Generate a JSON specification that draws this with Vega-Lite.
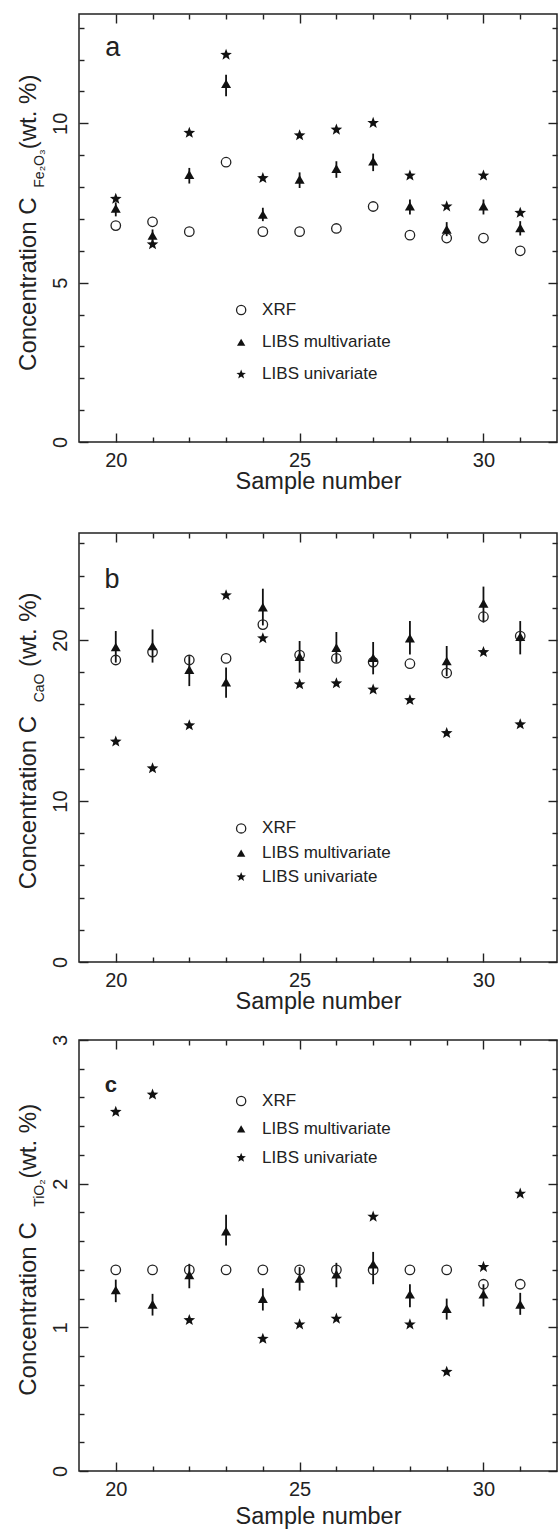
{
  "$schema": "https://vega.github.io/schema/vega-lite/v6.json",
  "autosize": {"type": "pad"},
  "padding": {"left": 16, "top": 12, "right": 1, "bottom": 0},
  "spacing": 37,
  "config": {
    "font": "Liberation Sans",
    "view": {"stroke": "#222", "strokeWidth": 1.5},
    "axis": {"domain": false, "grid": false, "tickColor": "#222", "tickWidth": 1.4, "labelFont": "Liberation Sans", "labelFontSize": 20, "labelColor": "#222", "titleFont": "Liberation Sans", "titleFontSize": 23.5, "titleFontWeight": "normal", "titleColor": "#222", "labelFlush": false, "labelOverlap": false},
    "text": {"font": "Liberation Sans", "color": "#222"}
  },
  "datasets": {
    "pa": [
      {"sample":20,"method":"XRF","value":6.79},{"sample":21,"method":"XRF","value":6.91},{"sample":22,"method":"XRF","value":6.6},{"sample":23,"method":"XRF","value":8.78},{"sample":24,"method":"XRF","value":6.6},{"sample":25,"method":"XRF","value":6.6},{"sample":26,"method":"XRF","value":6.7},{"sample":27,"method":"XRF","value":7.39},{"sample":28,"method":"XRF","value":6.49},{"sample":29,"method":"XRF","value":6.4},{"sample":30,"method":"XRF","value":6.4},{"sample":31,"method":"XRF","value":6.0},
      {"sample":20,"method":"LIBS multivariate","value":7.33,"lo":7.08,"hi":7.52},{"sample":21,"method":"LIBS multivariate","value":6.48,"lo":6.25,"hi":6.67},{"sample":22,"method":"LIBS multivariate","value":8.39,"lo":8.11,"hi":8.6},{"sample":23,"method":"LIBS multivariate","value":11.24,"lo":10.85,"hi":11.52},{"sample":24,"method":"LIBS multivariate","value":7.14,"lo":6.93,"hi":7.35},{"sample":25,"method":"LIBS multivariate","value":8.24,"lo":7.97,"hi":8.46},{"sample":26,"method":"LIBS multivariate","value":8.58,"lo":8.29,"hi":8.81},{"sample":27,"method":"LIBS multivariate","value":8.81,"lo":8.5,"hi":9.05},{"sample":28,"method":"LIBS multivariate","value":7.4,"lo":7.14,"hi":7.61},{"sample":29,"method":"LIBS multivariate","value":6.67,"lo":6.46,"hi":6.9},{"sample":30,"method":"LIBS multivariate","value":7.4,"lo":7.14,"hi":7.61},{"sample":31,"method":"LIBS multivariate","value":6.72,"lo":6.48,"hi":6.93},
      {"sample":20,"method":"LIBS univariate","value":7.63},{"sample":21,"method":"LIBS univariate","value":6.2},{"sample":22,"method":"LIBS univariate","value":9.7},{"sample":23,"method":"LIBS univariate","value":12.15},{"sample":24,"method":"LIBS univariate","value":8.28},{"sample":25,"method":"LIBS univariate","value":9.62},{"sample":26,"method":"LIBS univariate","value":9.8},{"sample":27,"method":"LIBS univariate","value":10.01},{"sample":28,"method":"LIBS univariate","value":8.36},{"sample":29,"method":"LIBS univariate","value":7.39},{"sample":30,"method":"LIBS univariate","value":8.36},{"sample":31,"method":"LIBS univariate","value":7.19}
    ],
    "pb": [
      {"sample":20,"method":"XRF","value":18.76},{"sample":21,"method":"XRF","value":19.25},{"sample":22,"method":"XRF","value":18.76},{"sample":23,"method":"XRF","value":18.86},{"sample":24,"method":"XRF","value":20.96},{"sample":25,"method":"XRF","value":19.07},{"sample":26,"method":"XRF","value":18.86},{"sample":27,"method":"XRF","value":18.63},{"sample":28,"method":"XRF","value":18.53},{"sample":29,"method":"XRF","value":17.95},{"sample":30,"method":"XRF","value":21.45},{"sample":31,"method":"XRF","value":20.25},
      {"sample":20,"method":"LIBS multivariate","value":19.57,"lo":18.6,"hi":20.56},{"sample":21,"method":"LIBS multivariate","value":19.63,"lo":18.6,"hi":20.66},{"sample":22,"method":"LIBS multivariate","value":18.16,"lo":17.14,"hi":19.0},{"sample":23,"method":"LIBS multivariate","value":17.39,"lo":16.42,"hi":18.29},{"sample":24,"method":"LIBS multivariate","value":22.05,"lo":20.91,"hi":23.19},{"sample":25,"method":"LIBS multivariate","value":18.97,"lo":17.98,"hi":19.94},{"sample":26,"method":"LIBS multivariate","value":19.53,"lo":18.6,"hi":20.5},{"sample":27,"method":"LIBS multivariate","value":18.9,"lo":17.87,"hi":19.88},{"sample":28,"method":"LIBS multivariate","value":20.12,"lo":19.11,"hi":21.18},{"sample":29,"method":"LIBS multivariate","value":18.7,"lo":17.76,"hi":19.63},{"sample":30,"method":"LIBS multivariate","value":22.28,"lo":21.08,"hi":23.32},{"sample":31,"method":"LIBS multivariate","value":20.21,"lo":19.11,"hi":21.18},
      {"sample":20,"method":"LIBS univariate","value":13.69},{"sample":21,"method":"LIBS univariate","value":12.03},{"sample":22,"method":"LIBS univariate","value":14.7},{"sample":23,"method":"LIBS univariate","value":22.78},{"sample":24,"method":"LIBS univariate","value":20.11},{"sample":25,"method":"LIBS univariate","value":17.25},{"sample":26,"method":"LIBS univariate","value":17.31},{"sample":27,"method":"LIBS univariate","value":16.92},{"sample":28,"method":"LIBS univariate","value":16.27},{"sample":29,"method":"LIBS univariate","value":14.22},{"sample":30,"method":"LIBS univariate","value":19.25},{"sample":31,"method":"LIBS univariate","value":14.76}
    ],
    "pc": [
      {"sample":20,"method":"XRF","value":1.4},{"sample":21,"method":"XRF","value":1.4},{"sample":22,"method":"XRF","value":1.4},{"sample":23,"method":"XRF","value":1.4},{"sample":24,"method":"XRF","value":1.4},{"sample":25,"method":"XRF","value":1.4},{"sample":26,"method":"XRF","value":1.4},{"sample":27,"method":"XRF","value":1.4},{"sample":28,"method":"XRF","value":1.4},{"sample":29,"method":"XRF","value":1.4},{"sample":30,"method":"XRF","value":1.3},{"sample":31,"method":"XRF","value":1.3},
      {"sample":20,"method":"LIBS multivariate","value":1.26,"lo":1.175,"hi":1.332},{"sample":21,"method":"LIBS multivariate","value":1.16,"lo":1.082,"hi":1.233},{"sample":22,"method":"LIBS multivariate","value":1.365,"lo":1.272,"hi":1.442},{"sample":23,"method":"LIBS multivariate","value":1.67,"lo":1.569,"hi":1.783},{"sample":24,"method":"LIBS multivariate","value":1.2,"lo":1.117,"hi":1.272},{"sample":25,"method":"LIBS multivariate","value":1.34,"lo":1.256,"hi":1.419},{"sample":26,"method":"LIBS multivariate","value":1.37,"lo":1.279,"hi":1.449},{"sample":27,"method":"LIBS multivariate","value":1.44,"lo":1.3,"hi":1.525},{"sample":28,"method":"LIBS multivariate","value":1.23,"lo":1.14,"hi":1.3},{"sample":29,"method":"LIBS multivariate","value":1.13,"lo":1.054,"hi":1.2},{"sample":30,"method":"LIBS multivariate","value":1.23,"lo":1.145,"hi":1.3},{"sample":31,"method":"LIBS multivariate","value":1.16,"lo":1.087,"hi":1.24},
      {"sample":20,"method":"LIBS univariate","value":2.5},{"sample":21,"method":"LIBS univariate","value":2.62},{"sample":22,"method":"LIBS univariate","value":1.05},{"sample":24,"method":"LIBS univariate","value":0.92},{"sample":25,"method":"LIBS univariate","value":1.02},{"sample":26,"method":"LIBS univariate","value":1.06},{"sample":27,"method":"LIBS univariate","value":1.77},{"sample":28,"method":"LIBS univariate","value":1.02},{"sample":29,"method":"LIBS univariate","value":0.69},{"sample":30,"method":"LIBS univariate","value":1.42},{"sample":31,"method":"LIBS univariate","value":1.93}
    ]
  },
  "vconcat": [
    {
      "width": 478, "height": 428,
      "data": {"name": "pa"},
      "resolve": {"scale": {"x": "shared", "y": "shared"}, "axis": {"x": "independent", "y": "independent"}},
      "layer": [
        {"transform": [{"filter": "datum.method === 'LIBS multivariate'"}],
         "mark": {"type": "rule", "color": "#111", "strokeWidth": 1.8},
         "encoding": {
           "x": {"field": "sample", "type": "quantitative", "scale": {"domain": [19, 32], "nice": false, "zero": false}, "axis": {"orient": "bottom", "values": [20, 25, 30], "tickSize": -9, "labelPadding": 17, "title": "Sample number", "titlePadding": -1}},
           "y": {"field": "lo", "type": "quantitative", "scale": {"domain": [0, 13.43], "nice": false, "zero": false}, "axis": {"orient": "left", "values": [0, 5, 10], "tickSize": -9, "labelAngle": 270, "labelAlign": "center", "labelBaseline": "alphabetic", "labelPadding": 21.5, "title": null}},
           "y2": {"field": "hi"}}},
        {"transform": [{"filter": "datum.method === 'XRF'"}],
         "mark": {"type": "point", "shape": "circle", "filled": false, "stroke": "#222", "strokeWidth": 1.3, "size": 90, "opacity": 1},
         "encoding": {
           "x": {"field": "sample", "type": "quantitative", "axis": {"orient": "bottom", "values": [21, 22, 23, 24, 26, 27, 28, 29, 31], "tickSize": -5, "labels": false, "title": null}},
           "y": {"field": "value", "type": "quantitative", "axis": {"orient": "left", "values": [1, 2, 3, 4, 6, 7, 8, 9, 11, 12, 13], "tickSize": -5, "labels": false, "title": null}}}},
        {"transform": [{"filter": "datum.method === 'LIBS multivariate'"}],
         "mark": {"type": "point", "shape": "triangle-up", "filled": true, "fill": "#111", "strokeWidth": 0, "size": 100, "opacity": 1},
         "encoding": {
           "x": {"field": "sample", "type": "quantitative", "axis": {"orient": "top", "values": [20, 25, 30], "tickSize": -9, "labels": false, "title": null}},
           "y": {"field": "value", "type": "quantitative", "axis": {"orient": "right", "values": [0, 5, 10], "tickSize": -9, "labels": false, "title": null}}}},
        {"transform": [{"filter": "datum.method === 'LIBS univariate'"}],
         "mark": {"type": "point", "shape": "M0,-1L0.2469,-0.3398L0.951,-0.309L0.3994,0.1298L0.588,0.809L0,0.42L-0.588,0.809L-0.3994,0.1298L-0.951,-0.309L-0.2469,-0.3398Z", "filled": true, "fill": "#111", "strokeWidth": 0, "size": 150, "opacity": 1},
         "encoding": {
           "x": {"field": "sample", "type": "quantitative", "axis": {"orient": "top", "values": [21, 22, 23, 24, 26, 27, 28, 29, 31], "tickSize": -5, "labels": false, "title": null}},
           "y": {"field": "value", "type": "quantitative", "axis": {"orient": "right", "values": [1, 2, 3, 4, 6, 7, 8, 9, 11, 12, 13], "tickSize": -5, "labels": false, "title": null}}}},
        {"data": {"values": [{}]}, "mark": {"type": "text", "angle": 270, "align": "left", "baseline": "alphabetic", "fontSize": 24},
         "encoding": {"x": {"datum": 17.83, "type": "quantitative", "axis": null}, "y": {"datum": 2.23, "type": "quantitative", "axis": null}, "text": {"value": "Concentration C"}}},
        {"data": {"values": [{}]}, "mark": {"type": "text", "angle": 270, "align": "left", "baseline": "alphabetic", "fontSize": 14},
         "encoding": {"x": {"datum": 18.05, "type": "quantitative", "axis": null}, "y": {"datum": 7.98, "type": "quantitative", "axis": null}, "text": {"value": "Fe₂O₃"}}},
        {"data": {"values": [{}]}, "mark": {"type": "text", "angle": 270, "align": "right", "baseline": "alphabetic", "fontSize": 24},
         "encoding": {"x": {"datum": 17.83, "type": "quantitative", "axis": null}, "y": {"datum": 11.53, "type": "quantitative", "axis": null}, "text": {"value": "(wt. %)"}}},
        {"data": {"values": [{}]}, "mark": {"type": "text", "align": "center", "baseline": "alphabetic", "fontSize": 27},
         "encoding": {"x": {"datum": 19.92, "type": "quantitative", "axis": null}, "y": {"datum": 12.1, "type": "quantitative", "axis": null}, "text": {"value": "a"}}},
        {"data": {"values": [{}]}, "mark": {"type": "point", "shape": "circle", "filled": false, "stroke": "#222", "strokeWidth": 1.3, "size": 85, "opacity": 1},
         "encoding": {"x": {"datum": 23.41, "type": "quantitative", "axis": null}, "y": {"datum": 4.14, "type": "quantitative", "axis": null}}},
        {"data": {"values": [{}]}, "mark": {"type": "point", "shape": "triangle-up", "filled": true, "fill": "#111", "strokeWidth": 0, "size": 70, "opacity": 1},
         "encoding": {"x": {"datum": 23.41, "type": "quantitative", "axis": null}, "y": {"datum": 3.13, "type": "quantitative", "axis": null}}},
        {"data": {"values": [{}]}, "mark": {"type": "point", "shape": "M0,-1L0.2469,-0.3398L0.951,-0.309L0.3994,0.1298L0.588,0.809L0,0.42L-0.588,0.809L-0.3994,0.1298L-0.951,-0.309L-0.2469,-0.3398Z", "filled": true, "fill": "#111", "strokeWidth": 0, "size": 100, "opacity": 1},
         "encoding": {"x": {"datum": 23.41, "type": "quantitative", "axis": null}, "y": {"datum": 2.12, "type": "quantitative", "axis": null}}},
        {"data": {"values": [{}]}, "mark": {"type": "text", "align": "left", "baseline": "middle", "fontSize": 17},
         "encoding": {"x": {"datum": 23.98, "type": "quantitative", "axis": null}, "y": {"datum": 4.14, "type": "quantitative", "axis": null}, "text": {"value": "XRF"}}},
        {"data": {"values": [{}]}, "mark": {"type": "text", "align": "left", "baseline": "middle", "fontSize": 17},
         "encoding": {"x": {"datum": 23.98, "type": "quantitative", "axis": null}, "y": {"datum": 3.13, "type": "quantitative", "axis": null}, "text": {"value": "LIBS multivariate"}}},
        {"data": {"values": [{}]}, "mark": {"type": "text", "align": "left", "baseline": "middle", "fontSize": 17},
         "encoding": {"x": {"datum": 23.98, "type": "quantitative", "axis": null}, "y": {"datum": 2.12, "type": "quantitative", "axis": null}, "text": {"value": "LIBS univariate"}}}
      ]
    },
    {
      "spacing": 19,
      "vconcat": [
        {
          "width": 478, "height": 429,
          "data": {"name": "pb"},
          "resolve": {"scale": {"x": "shared", "y": "shared"}, "axis": {"x": "independent", "y": "independent"}},
          "layer": [
            {"transform": [{"filter": "datum.method === 'LIBS multivariate'"}],
             "mark": {"type": "rule", "color": "#111", "strokeWidth": 1.8},
             "encoding": {
               "x": {"field": "sample", "type": "quantitative", "scale": {"domain": [19, 32], "nice": false, "zero": false}, "axis": {"orient": "bottom", "values": [20, 25, 30], "tickSize": -9, "labelPadding": 17, "title": "Sample number", "titlePadding": -1}},
               "y": {"field": "lo", "type": "quantitative", "scale": {"domain": [0, 26.65], "nice": false, "zero": false}, "axis": {"orient": "left", "values": [0, 10, 20], "tickSize": -9, "labelAngle": 270, "labelAlign": "center", "labelBaseline": "alphabetic", "labelPadding": 21.5, "title": null}},
               "y2": {"field": "hi"}}},
            {"transform": [{"filter": "datum.method === 'XRF'"}],
             "mark": {"type": "point", "shape": "circle", "filled": false, "stroke": "#222", "strokeWidth": 1.3, "size": 90, "opacity": 1},
             "encoding": {
               "x": {"field": "sample", "type": "quantitative", "axis": {"orient": "bottom", "values": [21, 22, 23, 24, 26, 27, 28, 29, 31], "tickSize": -5, "labels": false, "title": null}},
               "y": {"field": "value", "type": "quantitative", "axis": {"orient": "left", "values": [2, 4, 6, 8, 12, 14, 16, 18, 22, 24, 26], "tickSize": -5, "labels": false, "title": null}}}},
            {"transform": [{"filter": "datum.method === 'LIBS multivariate'"}],
             "mark": {"type": "point", "shape": "triangle-up", "filled": true, "fill": "#111", "strokeWidth": 0, "size": 100, "opacity": 1},
             "encoding": {
               "x": {"field": "sample", "type": "quantitative", "axis": {"orient": "top", "values": [20, 25, 30], "tickSize": -9, "labels": false, "title": null}},
               "y": {"field": "value", "type": "quantitative", "axis": {"orient": "right", "values": [0, 10, 20], "tickSize": -9, "labels": false, "title": null}}}},
            {"transform": [{"filter": "datum.method === 'LIBS univariate'"}],
             "mark": {"type": "point", "shape": "M0,-1L0.2469,-0.3398L0.951,-0.309L0.3994,0.1298L0.588,0.809L0,0.42L-0.588,0.809L-0.3994,0.1298L-0.951,-0.309L-0.2469,-0.3398Z", "filled": true, "fill": "#111", "strokeWidth": 0, "size": 150, "opacity": 1},
             "encoding": {
               "x": {"field": "sample", "type": "quantitative", "axis": {"orient": "top", "values": [21, 22, 23, 24, 26, 27, 28, 29, 31], "tickSize": -5, "labels": false, "title": null}},
               "y": {"field": "value", "type": "quantitative", "axis": {"orient": "right", "values": [2, 4, 6, 8, 12, 14, 16, 18, 22, 24, 26], "tickSize": -5, "labels": false, "title": null}}}},
            {"data": {"values": [{}]}, "mark": {"type": "text", "angle": 270, "align": "left", "baseline": "alphabetic", "fontSize": 24},
             "encoding": {"x": {"datum": 17.83, "type": "quantitative", "axis": null}, "y": {"datum": 4.52, "type": "quantitative", "axis": null}, "text": {"value": "Concentration C"}}},
            {"data": {"values": [{}]}, "mark": {"type": "text", "angle": 270, "align": "left", "baseline": "alphabetic", "fontSize": 14},
             "encoding": {"x": {"datum": 18.05, "type": "quantitative", "axis": null}, "y": {"datum": 16.13, "type": "quantitative", "axis": null}, "text": {"value": "CaO"}}},
            {"data": {"values": [{}]}, "mark": {"type": "text", "angle": 270, "align": "right", "baseline": "alphabetic", "fontSize": 24},
             "encoding": {"x": {"datum": 17.83, "type": "quantitative", "axis": null}, "y": {"datum": 22.96, "type": "quantitative", "axis": null}, "text": {"value": "(wt. %)"}}},
            {"data": {"values": [{}]}, "mark": {"type": "text", "align": "center", "baseline": "alphabetic", "fontSize": 27},
             "encoding": {"x": {"datum": 19.9, "type": "quantitative", "axis": null}, "y": {"datum": 23.26, "type": "quantitative", "axis": null}, "text": {"value": "b"}}},
            {"data": {"values": [{}]}, "mark": {"type": "point", "shape": "circle", "filled": false, "stroke": "#222", "strokeWidth": 1.3, "size": 85, "opacity": 1},
             "encoding": {"x": {"datum": 23.41, "type": "quantitative", "axis": null}, "y": {"datum": 8.3, "type": "quantitative", "axis": null}}},
            {"data": {"values": [{}]}, "mark": {"type": "point", "shape": "triangle-up", "filled": true, "fill": "#111", "strokeWidth": 0, "size": 70, "opacity": 1},
             "encoding": {"x": {"datum": 23.41, "type": "quantitative", "axis": null}, "y": {"datum": 6.77, "type": "quantitative", "axis": null}}},
            {"data": {"values": [{}]}, "mark": {"type": "point", "shape": "M0,-1L0.2469,-0.3398L0.951,-0.309L0.3994,0.1298L0.588,0.809L0,0.42L-0.588,0.809L-0.3994,0.1298L-0.951,-0.309L-0.2469,-0.3398Z", "filled": true, "fill": "#111", "strokeWidth": 0, "size": 100, "opacity": 1},
             "encoding": {"x": {"datum": 23.41, "type": "quantitative", "axis": null}, "y": {"datum": 5.28, "type": "quantitative", "axis": null}}},
            {"data": {"values": [{}]}, "mark": {"type": "text", "align": "left", "baseline": "middle", "fontSize": 17},
             "encoding": {"x": {"datum": 23.98, "type": "quantitative", "axis": null}, "y": {"datum": 8.3, "type": "quantitative", "axis": null}, "text": {"value": "XRF"}}},
            {"data": {"values": [{}]}, "mark": {"type": "text", "align": "left", "baseline": "middle", "fontSize": 17},
             "encoding": {"x": {"datum": 23.98, "type": "quantitative", "axis": null}, "y": {"datum": 6.77, "type": "quantitative", "axis": null}, "text": {"value": "LIBS multivariate"}}},
            {"data": {"values": [{}]}, "mark": {"type": "text", "align": "left", "baseline": "middle", "fontSize": 17},
             "encoding": {"x": {"datum": 23.98, "type": "quantitative", "axis": null}, "y": {"datum": 5.28, "type": "quantitative", "axis": null}, "text": {"value": "LIBS univariate"}}}
          ]
        },
        {
          "width": 478, "height": 431,
          "data": {"name": "pc"},
          "resolve": {"scale": {"x": "shared", "y": "shared"}, "axis": {"x": "independent", "y": "independent"}},
          "layer": [
            {"transform": [{"filter": "datum.method === 'LIBS multivariate'"}],
             "mark": {"type": "rule", "color": "#111", "strokeWidth": 1.8},
             "encoding": {
               "x": {"field": "sample", "type": "quantitative", "scale": {"domain": [19, 32], "nice": false, "zero": false}, "axis": {"orient": "bottom", "values": [20, 25, 30], "tickSize": -9, "labelPadding": 17, "title": "Sample number", "titlePadding": 5}},
               "y": {"field": "lo", "type": "quantitative", "scale": {"domain": [0, 3], "nice": false, "zero": false}, "axis": {"orient": "left", "values": [0, 1, 2, 3], "tickSize": -9, "labelAngle": 270, "labelAlign": "center", "labelBaseline": "alphabetic", "labelPadding": 21.5, "title": null}},
               "y2": {"field": "hi"}}},
            {"transform": [{"filter": "datum.method === 'XRF'"}],
             "mark": {"type": "point", "shape": "circle", "filled": false, "stroke": "#222", "strokeWidth": 1.3, "size": 90, "opacity": 1},
             "encoding": {
               "x": {"field": "sample", "type": "quantitative", "axis": {"orient": "bottom", "values": [21, 22, 23, 24, 26, 27, 28, 29, 31], "tickSize": -5, "labels": false, "title": null}},
               "y": {"field": "value", "type": "quantitative", "axis": {"orient": "left", "values": [0.2, 0.4, 0.6, 0.8, 1.2, 1.4, 1.6, 1.8, 2.2, 2.4, 2.6, 2.8], "tickSize": -5, "labels": false, "title": null}}}},
            {"transform": [{"filter": "datum.method === 'LIBS multivariate'"}],
             "mark": {"type": "point", "shape": "triangle-up", "filled": true, "fill": "#111", "strokeWidth": 0, "size": 100, "opacity": 1},
             "encoding": {
               "x": {"field": "sample", "type": "quantitative", "axis": {"orient": "top", "values": [20, 25, 30], "tickSize": -9, "labels": false, "title": null}},
               "y": {"field": "value", "type": "quantitative", "axis": {"orient": "right", "values": [0, 1, 2, 3], "tickSize": -9, "labels": false, "title": null}}}},
            {"transform": [{"filter": "datum.method === 'LIBS univariate'"}],
             "mark": {"type": "point", "shape": "M0,-1L0.2469,-0.3398L0.951,-0.309L0.3994,0.1298L0.588,0.809L0,0.42L-0.588,0.809L-0.3994,0.1298L-0.951,-0.309L-0.2469,-0.3398Z", "filled": true, "fill": "#111", "strokeWidth": 0, "size": 150, "opacity": 1},
             "encoding": {
               "x": {"field": "sample", "type": "quantitative", "axis": {"orient": "top", "values": [21, 22, 23, 24, 26, 27, 28, 29, 31], "tickSize": -5, "labels": false, "title": null}},
               "y": {"field": "value", "type": "quantitative", "axis": {"orient": "right", "values": [0.2, 0.4, 0.6, 0.8, 1.2, 1.4, 1.6, 1.8, 2.2, 2.4, 2.6, 2.8], "tickSize": -5, "labels": false, "title": null}}}},
            {"data": {"values": [{}]}, "mark": {"type": "text", "angle": 270, "align": "left", "baseline": "alphabetic", "fontSize": 24},
             "encoding": {"x": {"datum": 17.83, "type": "quantitative", "axis": null}, "y": {"datum": 0.524, "type": "quantitative", "axis": null}, "text": {"value": "Concentration C"}}},
            {"data": {"values": [{}]}, "mark": {"type": "text", "angle": 270, "align": "left", "baseline": "alphabetic", "fontSize": 14},
             "encoding": {"x": {"datum": 18.05, "type": "quantitative", "axis": null}, "y": {"datum": 1.839, "type": "quantitative", "axis": null}, "text": {"value": "TiO₂"}}},
            {"data": {"values": [{}]}, "mark": {"type": "text", "angle": 270, "align": "right", "baseline": "alphabetic", "fontSize": 24},
             "encoding": {"x": {"datum": 17.83, "type": "quantitative", "axis": null}, "y": {"datum": 2.556, "type": "quantitative", "axis": null}, "text": {"value": "(wt. %)"}}},
            {"data": {"values": [{}]}, "mark": {"type": "text", "align": "center", "baseline": "alphabetic", "fontSize": 22, "fontWeight": "bold"},
             "encoding": {"x": {"datum": 19.87, "type": "quantitative", "axis": null}, "y": {"datum": 2.638, "type": "quantitative", "axis": null}, "text": {"value": "c"}}},
            {"data": {"values": [{}]}, "mark": {"type": "point", "shape": "circle", "filled": false, "stroke": "#222", "strokeWidth": 1.3, "size": 85, "opacity": 1},
             "encoding": {"x": {"datum": 23.41, "type": "quantitative", "axis": null}, "y": {"datum": 2.575, "type": "quantitative", "axis": null}}},
            {"data": {"values": [{}]}, "mark": {"type": "point", "shape": "triangle-up", "filled": true, "fill": "#111", "strokeWidth": 0, "size": 70, "opacity": 1},
             "encoding": {"x": {"datum": 23.41, "type": "quantitative", "axis": null}, "y": {"datum": 2.382, "type": "quantitative", "axis": null}}},
            {"data": {"values": [{}]}, "mark": {"type": "point", "shape": "M0,-1L0.2469,-0.3398L0.951,-0.309L0.3994,0.1298L0.588,0.809L0,0.42L-0.588,0.809L-0.3994,0.1298L-0.951,-0.309L-0.2469,-0.3398Z", "filled": true, "fill": "#111", "strokeWidth": 0, "size": 100, "opacity": 1},
             "encoding": {"x": {"datum": 23.41, "type": "quantitative", "axis": null}, "y": {"datum": 2.18, "type": "quantitative", "axis": null}}},
            {"data": {"values": [{}]}, "mark": {"type": "text", "align": "left", "baseline": "middle", "fontSize": 17},
             "encoding": {"x": {"datum": 23.98, "type": "quantitative", "axis": null}, "y": {"datum": 2.575, "type": "quantitative", "axis": null}, "text": {"value": "XRF"}}},
            {"data": {"values": [{}]}, "mark": {"type": "text", "align": "left", "baseline": "middle", "fontSize": 17},
             "encoding": {"x": {"datum": 23.98, "type": "quantitative", "axis": null}, "y": {"datum": 2.382, "type": "quantitative", "axis": null}, "text": {"value": "LIBS multivariate"}}},
            {"data": {"values": [{}]}, "mark": {"type": "text", "align": "left", "baseline": "middle", "fontSize": 17},
             "encoding": {"x": {"datum": 23.98, "type": "quantitative", "axis": null}, "y": {"datum": 2.18, "type": "quantitative", "axis": null}, "text": {"value": "LIBS univariate"}}}
          ]
        }
      ]
    }
  ]
}
